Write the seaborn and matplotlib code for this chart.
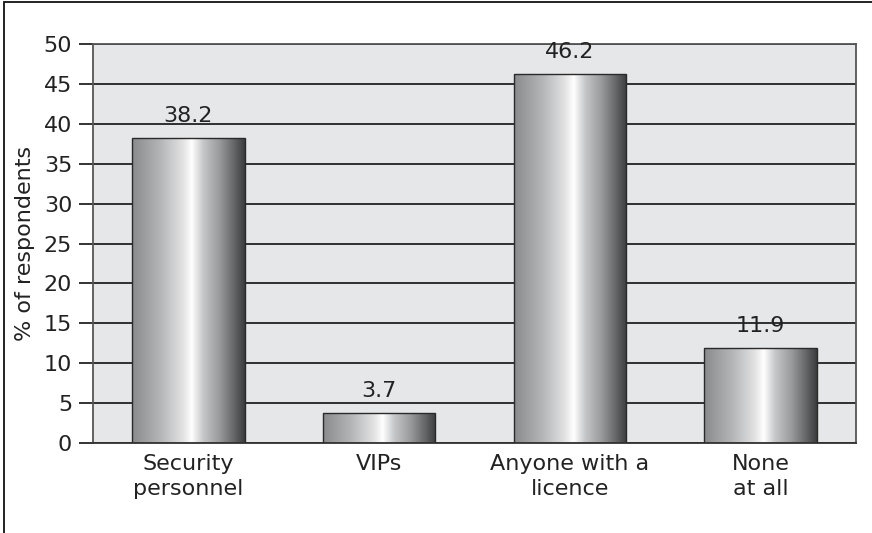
import numpy as np
import pandas as pd
import matplotlib
matplotlib.use("Agg")
import matplotlib.pyplot as plt
from matplotlib.colors import LinearSegmentedColormap
from matplotlib.lines import Line2D
import seaborn as sns

categories = ["Security\npersonnel", "VIPs", "Anyone with a\nlicence", "None\nat all"]
values = [38.2, 3.7, 46.2, 11.9]
y_ticks = [0, 5, 10, 15, 20, 25, 30, 35, 40, 45, 50]

df = pd.DataFrame({"category": categories, "value": values})

sns.set_theme(style="white")
plt.rcParams["font.family"] = ["DejaVu Sans"]

fig = plt.figure(figsize=(8.72, 5.33), dpi=100)
ax = fig.add_axes([0.1067, 0.1689, 0.875, 0.7485])
ax.set_facecolor("#e6e7e8")

sns.barplot(data=df, x="category", y="value", ax=ax, width=0.59,
            color="#999999", edgecolor="#2a2a2a", linewidth=1.0, zorder=3)

# metallic cylinder shading across each bar
metal = LinearSegmentedColormap.from_list(
    "metal",
    [(0.0, "#8a8b8d"), (0.25, "#b4b5b7"), (0.45, "#e2e2e3"), (0.53, "#ffffff"),
     (0.63, "#c6c7c9"), (0.78, "#98999b"), (0.9, "#67686a"), (1.0, "#3c3d3e")])
grad = np.linspace(0, 1, 256).reshape(1, -1)
for patch in ax.patches:
    x0, y0 = patch.get_x(), patch.get_y()
    w, h = patch.get_width(), patch.get_height()
    ax.imshow(grad, cmap=metal, aspect="auto", extent=(x0, x0 + w, y0, y0 + h),
              zorder=2.5, interpolation="bicubic")
    patch.set_facecolor("none")

ax.set_xlim(-0.5, len(categories) - 0.5)
ax.set_ylim(0, 50)
ax.set_yticks(y_ticks)
ax.set_yticklabels([str(t) for t in y_ticks])

for t in y_ticks:
    ax.axhline(t, color="#111111", linewidth=1.2, zorder=1)

ax.bar_label(ax.containers[0], labels=[f"{v:.1f}" for v in values],
             padding=9, fontsize=16, color="#222222")

ax.set_xlabel("")
ax.set_ylabel("% of respondents", fontsize=16, color="#222222", labelpad=6)
ax.tick_params(axis="y", which="major", length=10, width=1.2, color="#111111",
               labelsize=16, labelcolor="#222222", pad=5, left=True)
ax.tick_params(axis="x", length=0, labelsize=16, labelcolor="#222222", pad=8)
for lab in ax.get_xticklabels():
    lab.set_linespacing(1.3)

for side, sp in ax.spines.items():
    sp.set_visible(True)
    sp.set_color("#555555")
    sp.set_linewidth(1.3)
ax.spines["bottom"].set_color("#333333")

# frame lines along the top and left edges of the figure
fig.add_artist(Line2D([0.0046, 1.0], [0.997, 0.997], transform=fig.transFigure,
                      color="#222222", linewidth=1.4))
fig.add_artist(Line2D([0.0046, 0.0046], [0.0, 0.997], transform=fig.transFigure,
                      color="#222222", linewidth=1.4))

fig.savefig("out.png", dpi=100, facecolor="white")
